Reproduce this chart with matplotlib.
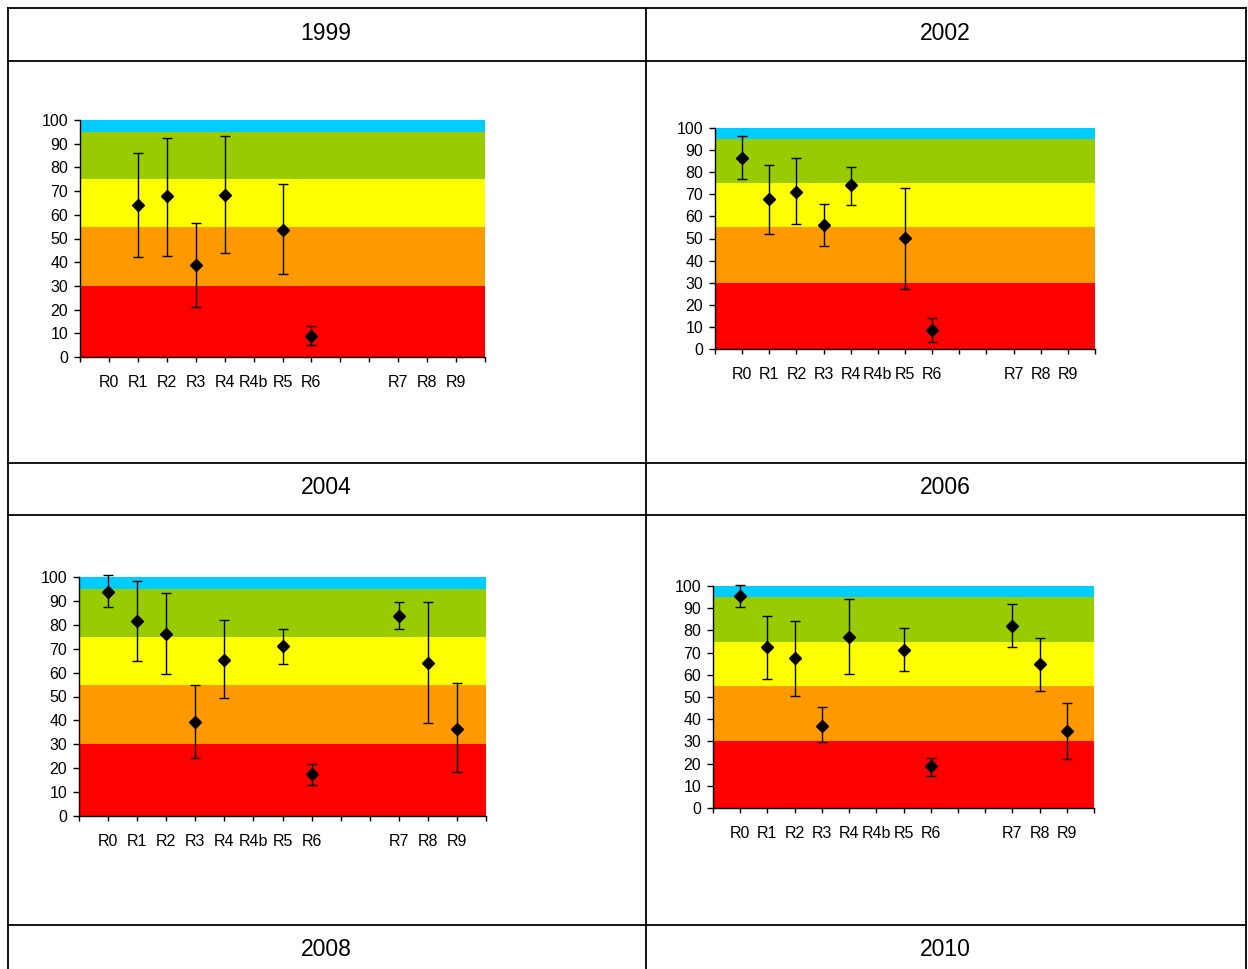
import matplotlib
matplotlib.use("Agg")
import matplotlib.pyplot as plt
from matplotlib.lines import Line2D

plt.rcParams["font.family"] = ["Liberation Sans", "DejaVu Sans"]

# Category slots along the x axis (empty strings are unlabeled slots)
categories = ["", "R0", "R1", "R2", "R3", "R4", "R4b", "R5", "R6", "", "", "R7", "R8", "R9", ""]

# Quality class bands (lower, upper, colour)
band_edges = [0, 30, 55, 75, 95, 100]
band_colors = ["#FF0000", "#FF9900", "#FFFF00", "#99CC00", "#00CCFF"]

years = ["1999", "2002", "2004", "2006", "2008", "2010"]

sites_1999 = ["R1", "R2", "R3", "R4", "R5", "R6"]
mean_1999 = [64.1, 67.9, 38.9, 68.3, 53.7, 8.9]
low_1999 = [42.3, 42.8, 21.0, 43.9, 35.2, 5.1]
high_1999 = [85.9, 92.5, 56.5, 93.1, 72.8, 13.1]

sites_2002 = ["R0", "R1", "R2", "R3", "R4", "R5", "R6"]
mean_2002 = [86.4, 67.9, 71.2, 56.1, 74.1, 50.1, 8.7]
low_2002 = [76.8, 52.2, 56.6, 46.8, 65.2, 27.1, 3.2]
high_2002 = [96.4, 83.1, 86.4, 65.8, 82.2, 72.9, 14.0]

sites_2004 = ["R0", "R1", "R2", "R3", "R4", "R5", "R6", "R7", "R8", "R9"]
mean_2004 = [93.9, 81.5, 76.0, 39.3, 65.2, 71.2, 17.4, 83.7, 64.2, 36.6]
low_2004 = [87.5, 64.8, 59.3, 24.2, 49.2, 63.8, 13.0, 78.3, 38.9, 18.4]
high_2004 = [100.8, 98.3, 93.3, 54.7, 82.0, 78.3, 21.6, 89.4, 89.4, 55.6]

sites_2006 = ["R0", "R1", "R2", "R3", "R4", "R5", "R6", "R7", "R8", "R9"]
mean_2006 = [95.5, 72.3, 67.5, 37.1, 77.2, 71.3, 18.7, 82.2, 64.7, 34.9]
low_2006 = [90.7, 58.2, 50.6, 29.6, 60.3, 61.5, 14.4, 72.3, 52.8, 22.0]
high_2006 = [100.4, 86.5, 84.3, 45.4, 94.0, 81.0, 22.5, 91.9, 76.6, 47.5]

W, H = 1248, 969
fig = plt.figure(figsize=(W / 100, H / 100), dpi=100)
fig.patch.set_facecolor("white")


def fx(px):
    return px / W


def fy(py):
    return 1 - py / H


# Table grid
lw_grid = 1.3
x_left, x_mid, x_right = 7.5, 645.5, 1245.5
row_lines = [7.5, 60.5, 462.5, 514.5, 924.5]
for y in row_lines:
    fig.add_artist(Line2D([fx(x_left), fx(x_right)], [fy(y), fy(y)],
                          color="black", lw=lw_grid, transform=fig.transFigure))
for x in [x_left, x_mid, x_right]:
    fig.add_artist(Line2D([fx(x), fx(x)], [fy(7.5), fy(H + 5)],
                          color="black", lw=lw_grid, transform=fig.transFigure))

# Year headers
header_pos = [(326, 33), (945, 33), (326, 488), (945, 488), (326, 949), (945, 949)]
for yr, (hx, hy) in zip(years, header_pos):
    fig.text(fx(hx), fy(hy), yr, ha="center", va="center", fontsize=16.5)

# Chart panels: (left, right, top, bottom) in pixels
panels = [
    ((80, 485, 120, 357), sites_1999, mean_1999, low_1999, high_1999),
    ((715, 1095, 128, 349), sites_2002, mean_2002, low_2002, high_2002),
    ((79, 486, 577, 816), sites_2004, mean_2004, low_2004, high_2004),
    ((713, 1094, 586, 808), sites_2006, mean_2006, low_2006, high_2006),
]

for (l, r, t, b), sites, mean, low, high in panels:
    ax = fig.add_axes([fx(l), fy(b), (r - l) / W, (b - t) / H])
    for i, c in enumerate(band_colors):
        ax.axhspan(band_edges[i], band_edges[i + 1], color=c, lw=0, zorder=0)
    xs = [categories.index(s) for s in sites]
    yerr = [[m - lo for m, lo in zip(mean, low)], [hi - m for m, hi in zip(mean, high)]]
    ax.errorbar(xs, mean, yerr=yerr, fmt="D", color="black", ms=6,
                ecolor="black", elinewidth=1.0, capsize=3.8, capthick=1.0,
                clip_on=False, zorder=3)
    ax.set_xlim(0, len(categories) - 1)
    ax.set_ylim(0, 100)
    ax.set_yticks(range(0, 101, 10))
    ax.set_xticks(range(len(categories)))
    ax.set_xticklabels(categories)
    ax.tick_params(axis="y", direction="out", length=4, width=1, pad=4.5, labelsize=11.5)
    ax.tick_params(axis="x", direction="out", length=3.5, width=1, pad=9.5, labelsize=11.5)
    for side in ("top", "right"):
        ax.spines[side].set_visible(False)
    for side in ("left", "bottom"):
        ax.spines[side].set_linewidth(1.0)
        ax.spines[side].set_zorder(4)

fig.savefig("out.png", dpi=100, facecolor="white")
